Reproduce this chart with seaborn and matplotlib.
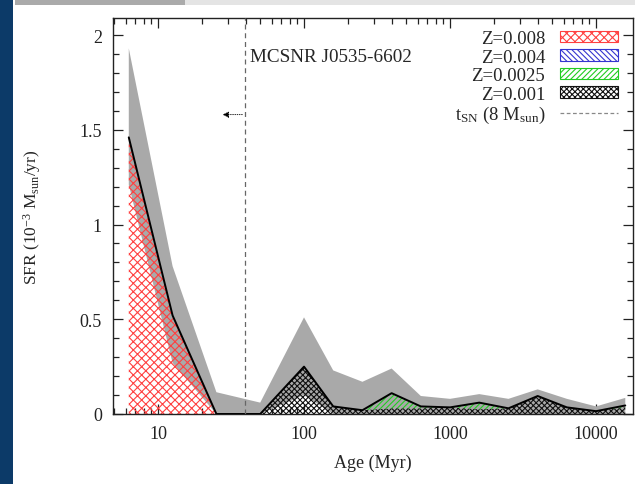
import numpy as np
import pandas as pd
import seaborn as sns
import matplotlib.pyplot as plt
from matplotlib.patches import Rectangle, Patch
from matplotlib.lines import Line2D

# Star-formation history bins (age in Myr)
ages = [6.31, 12.59, 25.12, 50.12, 100.0, 158.5, 251.2, 398.1, 631.0,
        1000.0, 1585.0, 2512.0, 3981.0, 6310.0, 10000.0, 15849.0]

# SFR per metallicity (10^-3 Msun/yr)
sfr_z0080 = [1.46, 0.52, 0.0, 0.0, 0.0, 0.0, 0.0, 0.0, 0.0,
             0.0, 0.0, 0.0, 0.0, 0.0, 0.0, 0.0]
sfr_z0040 = [0.0, 0.0, 0.0, 0.0, 0.0, 0.0, 0.0, 0.0, 0.0,
             0.0, 0.0, 0.0, 0.0, 0.0, 0.0, 0.0]
sfr_z0025 = [0.0, 0.0, 0.0, 0.0, 0.0, 0.0, 0.0, 0.08, 0.01,
             0.0, 0.035, 0.0, 0.0, 0.0, 0.0, 0.01]
sfr_z0010 = [0.0, 0.0, 0.0, 0.0, 0.25, 0.04, 0.02, 0.03, 0.03,
             0.035, 0.025, 0.03, 0.095, 0.035, 0.015, 0.035]

# Uncertainty band on the total SFR
sfr_lower = [1.21, 0.27, 0.0, 0.0, 0.10, 0.0, 0.0, 0.0, 0.0,
             0.0, 0.0, 0.0, 0.0, 0.0, 0.0, 0.0]
sfr_upper = [1.93, 0.78, 0.115, 0.06, 0.51, 0.23, 0.17, 0.24, 0.095,
             0.08, 0.105, 0.08, 0.13, 0.08, 0.04, 0.085]

t_sn = 39.5          # lifetime of an 8 Msun star (Myr)
snr_name = "MCSNR J0535-6602"

z_keys = ["z0080", "z0040", "z0025", "z0010"]
z_labels = ["Z=0.008", "Z=0.004", "Z=0.0025", "Z=0.001"]
z_colors = ["#ff4040", "#3535d0", "#22cc22", "#111111"]
z_hatches = ["xxxx", "\\\\\\\\\\\\", "//////", "xxxxxx"]

sns.set_theme(style="ticks")
plt.rcParams["font.family"] = ["Liberation Serif", "DejaVu Serif"]
plt.rcParams["mathtext.fontset"] = "custom"
plt.rcParams["mathtext.rm"] = "Liberation Serif"
plt.rcParams["mathtext.it"] = "Liberation Serif:italic"
plt.rcParams["hatch.linewidth"] = 0.8

fig = plt.figure(figsize=(6.35, 4.85), dpi=100)
fig.patch.set_facecolor("white")
# page edge decorations
fig.add_artist(Rectangle((0, 0), 13 / 635, 1, transform=fig.transFigure,
                         facecolor="#0c3a68", edgecolor="none", zorder=-5))
fig.add_artist(Rectangle((15 / 635, 1 - 6 / 485), 170 / 635, 6 / 485,
                         transform=fig.transFigure, facecolor="#aaaaaa",
                         edgecolor="none", zorder=-5))
fig.add_artist(Rectangle((185 / 635, 1 - 6 / 485), 450 / 635, 6 / 485,
                         transform=fig.transFigure, facecolor="#e4e4e4",
                         edgecolor="none", zorder=-5))

ax = fig.add_axes([113 / 635, 70 / 485, 520 / 635, 396 / 485])

df = pd.DataFrame({"age": ages, "z0080": sfr_z0080, "z0040": sfr_z0040,
                   "z0025": sfr_z0025, "z0010": sfr_z0010,
                   "lo": sfr_lower, "hi": sfr_upper})
df["total"] = df[z_keys].sum(axis=1)

# uncertainty envelope
ax.fill_between(df["age"], df["lo"], df["hi"], facecolor="#a9a9a9",
                edgecolor="none", zorder=1)

# stacked hatched metallicity components (metal-poor at the bottom)
base = np.zeros(len(df))
for key, col, hat in zip(z_keys[::-1], z_colors[::-1], z_hatches[::-1]):
    top = base + df[key].to_numpy()
    ax.fill_between(df["age"], base, top, facecolor="none", edgecolor=col,
                    hatch=hat, linewidth=0, zorder=2)
    base = top

sns.lineplot(data=df, x="age", y="total", ax=ax, color="black", lw=1.4,
             zorder=3, legend=False)

ax.axvline(t_sn, color="#666666", ls=(0, (4, 3)), lw=0.9, zorder=4)
ax.annotate("", xy=(26.5, 1.58), xytext=(t_sn, 1.58),
            arrowprops=dict(arrowstyle="-|>", color="black", lw=0.6,
                            ls=":", mutation_scale=9), zorder=4)
ax.text(43, 1.885, snr_name, fontsize=13.8, va="center", ha="left")

ax.set_xscale("log")
ax.set_xlim(4.92, 17900)
ax.set_ylim(0, 2.09)
ax.set_yticks([0, 0.5, 1, 1.5, 2])
ax.set_yticklabels(["0", "0.5", "1", "1.5", "2"])
ax.set_xticks([10, 100, 1000, 10000])
ax.set_xticklabels(["10", "100", "1000", "10000"])
ax.yaxis.set_minor_locator(plt.MultipleLocator(0.1))
ax.tick_params(which="both", direction="in", top=True, right=True,
               labelsize=13, width=0.9, colors="#222222")
ax.tick_params(which="major", length=7, pad=8)
ax.tick_params(which="minor", length=4)
for s in ax.spines.values():
    s.set_linewidth(1.0)
    s.set_color("#222222")

ax.set_xlabel("Age (Myr)", fontsize=13, labelpad=8)
ax.set_ylabel(r"SFR (10$^{-3}$ M$_{\rm sun}$/yr)", fontsize=12.5, labelpad=26)

handles = [Patch(facecolor="white", edgecolor=c, hatch=h, lw=0.8)
           for c, h in zip(z_colors, z_hatches)]
handles.append(Line2D([], [], color="#888888", ls=(0, (3, 2)), lw=0.9))
labels = z_labels + [r"t$_{\rm SN}$ (8 M$_{\rm sun}$)"]
ax.legend(handles, labels, loc="upper right", bbox_to_anchor=(0.993, 0.998),
          frameon=False, markerfirst=False, fontsize=13.5, handlelength=3.1,
          handleheight=0.55, labelspacing=0.08, handletextpad=0.8,
          borderaxespad=0.2)

fig.savefig("out.png", dpi=100)
